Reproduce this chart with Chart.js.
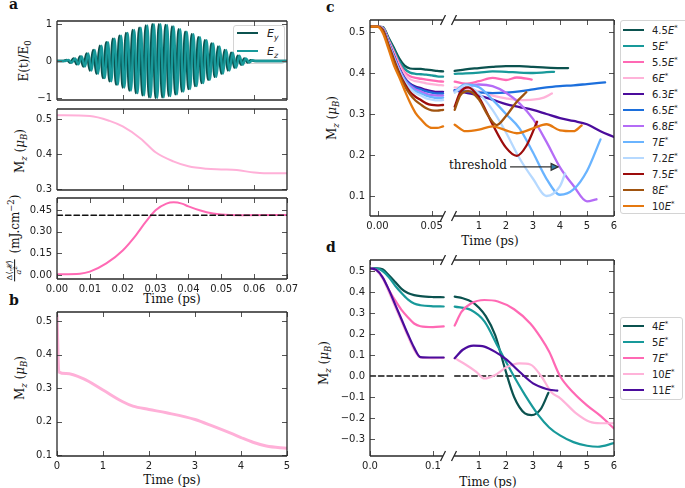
<!DOCTYPE html>
<html>
<head>
<meta charset="utf-8">
<script src="https://cdn.jsdelivr.net/npm/chart.js@4"></script>
<style>
body { margin: 0; background: #fff; }
#fig { position: relative; width: 685px; height: 488px; overflow: hidden; color: #111; }
canvas { position: absolute; }
.lbl { position: absolute; font-family: 'DejaVu Serif', serif; font-size: 12px; white-space: nowrap; line-height: 1; }
.rot { transform: translate(-50%, -50%) rotate(-90deg); }
.mid { transform: translate(-50%, -50%); }
.pl { position: absolute; font-family: 'DejaVu Serif', serif; font-weight: bold; font-size: 14px; line-height: 14px; }
.legend { position: absolute; border: 1px solid #d4d4d4; border-radius: 3px; background: #fff; font-family: 'DejaVu Sans', sans-serif; font-size: 10px; color: #222; }
.legend .row { position: absolute; left: 0; height: 16px; display: flex; align-items: center; white-space: nowrap; }
.legend .sw { display: inline-block; width: 21px; height: 0; border-top: 2.5px solid; }
sub, sup { font-size: 70%; line-height: 0; }
.frac { display: inline-flex; flex-direction: column; align-items: center; vertical-align: middle; font-size: 8px; line-height: 1.05; margin-right: 2px; }
.frac .num { border-bottom: 0.8px solid #111; padding: 0 1px; }
</style>
</head>
<body>
<div id="fig">
  <div class="pl" style="left:9px;top:-3px">a</div>
  <div class="pl" style="left:9px;top:293px">b</div>
  <div class="pl" style="left:326px;top:0px">c</div>
  <div class="pl" style="left:326px;top:240px">d</div>

  <div class="lbl rot" style="left:24px;top:61px">E(t)/E<sub>0</sub></div>
  <div class="lbl rot" style="left:20px;top:151px">M<sub><i>z</i></sub> (<i>μ</i><sub><i>B</i></sub>)</div>
  <div class="lbl rot" style="left:15px;top:238px"><span class="frac"><span class="num">Δ⟨<i>ℋ</i>⟩</span><span><i>a</i><sup>2</sup></span></span> (mJ.cm<sup>−2</sup>)</div>
  <div class="lbl mid" style="left:172px;top:299px">Time (ps)</div>
  <div class="lbl rot" style="left:20px;top:378px">M<sub><i>z</i></sub> (<i>μ</i><sub><i>B</i></sub>)</div>
  <div class="lbl mid" style="left:172px;top:480px">Time (ps)</div>
  <div class="lbl rot" style="left:332px;top:118px">M<sub><i>z</i></sub> (<i>μ</i><sub><i>B</i></sub>)</div>
  <div class="lbl mid" style="left:490px;top:241px">Time (ps)</div>
  <div class="lbl rot" style="left:324px;top:363px">M<sub><i>z</i></sub> (<i>μ</i><sub><i>B</i></sub>)</div>
  <div class="lbl mid" style="left:488px;top:482px">Time (ps)</div>
  <div class="lbl" style="right:178px;top:159px;font-size:12px">threshold</div>

  <div id="legA" class="legend" style="left:233px;top:25px;width:50px;height:37px;font-size:11px"></div>
  <div id="legC" class="legend" style="left:620px;top:20px;width:70px;height:192px"></div>
  <div id="legD" class="legend" style="left:620px;top:317px;width:61px;height:81px"></div>
</div>
<script>
// ---- panel a: pulse (extrema of the field, alternating sign) ----
var aFieldStart = 0.003;        // ps, first extremum
var aFieldHalfPeriod = 0.001;   // ps
var aFieldPeaks = [0.03, 0.05, 0.07, 0.09, 0.12, 0.15, 0.2, 0.26, 0.3, 0.35, 0.41, 0.46, 0.51, 0.55, 0.6, 0.64,
    0.68, 0.72, 0.76, 0.8, 0.84, 0.87, 0.9, 0.93, 0.96, 0.98, 0.995, 1.0, 0.995, 0.98, 0.97, 0.95, 0.93, 0.9,
    0.86, 0.83, 0.79, 0.76, 0.72, 0.68, 0.64, 0.6, 0.56, 0.51, 0.47, 0.43, 0.39, 0.35, 0.3, 0.26, 0.22, 0.18,
    0.14, 0.1, 0.07, 0.04, 0.02];
var aFieldLabels = ['y', 'z'];

// panel a: magnetisation and absorbed energy
var aMzTime = [0, 0.01, 0.016, 0.02, 0.0255, 0.03, 0.0354, 0.04, 0.0455, 0.05, 0.0547, 0.06, 0.063, 0.07];
var aMz = [0.511, 0.509, 0.495, 0.479, 0.444, 0.405, 0.379, 0.365, 0.358, 0.356, 0.354, 0.347, 0.345, 0.345];
var aEnergyTime = [0, 0.007, 0.01, 0.015, 0.02, 0.024, 0.027, 0.03, 0.0333, 0.0355, 0.038, 0.04, 0.0434, 0.0475, 0.05, 0.0557, 0.07];
var aEnergy = [0.005, 0.009, 0.023, 0.08, 0.17, 0.275, 0.367, 0.448, 0.494, 0.503, 0.494, 0.475, 0.448, 0.425, 0.418, 0.414, 0.415];
var aThreshold = 0.414;
var aTimeTicks = [0, 0.01, 0.02, 0.03, 0.04, 0.05, 0.06, 0.07];
var aTimeMarks = [0.02, 0.04, 0.06];

// ---- panel b ----
var bTime = [0, 0.04, 0.2, 0.57, 1.0, 1.43, 1.65, 2.0, 2.38, 3.0, 3.39, 3.83, 4.0, 4.26, 4.55, 5.0];
var bMz = [0.517, 0.348, 0.343, 0.328, 0.294, 0.259, 0.246, 0.236, 0.226, 0.206, 0.186, 0.162, 0.152, 0.138, 0.127, 0.120];

// ---- panel c ----
var cFields = ['4.5', '5', '5.5', '6', '6.3', '6.5', '6.8', '7', '7.2', '7.5', '8', '10'];
var cTimeLeft = [-0.007, 0, 0.005, 0.01, 0.015, 0.02, 0.025, 0.03, 0.035, 0.04, 0.045, 0.05, 0.055, 0.0605];
var cMzLeft = [
    [0.513, 0.513, 0.512, 0.487, 0.462, 0.436, 0.418, 0.411, 0.410, 0.410, 0.408, 0.407, 0.405, 0.404],
    [0.513, 0.513, 0.511, 0.484, 0.457, 0.429, 0.410, 0.401, 0.398, 0.397, 0.396, 0.394, 0.392, 0.391],
    [0.513, 0.513, 0.510, 0.481, 0.452, 0.423, 0.402, 0.392, 0.388, 0.386, 0.384, 0.382, 0.380, 0.379],
    [0.513, 0.513, 0.510, 0.479, 0.449, 0.419, 0.397, 0.385, 0.380, 0.378, 0.375, 0.373, 0.371, 0.370],
    [0.513, 0.513, 0.508, 0.476, 0.444, 0.412, 0.388, 0.374, 0.367, 0.363, 0.359, 0.356, 0.354, 0.354],
    [0.513, 0.513, 0.508, 0.475, 0.442, 0.410, 0.386, 0.372, 0.364, 0.360, 0.355, 0.352, 0.350, 0.350],
    [0.513, 0.513, 0.507, 0.474, 0.441, 0.409, 0.384, 0.369, 0.360, 0.355, 0.349, 0.346, 0.345, 0.345],
    [0.513, 0.513, 0.507, 0.473, 0.439, 0.407, 0.382, 0.365, 0.356, 0.350, 0.345, 0.341, 0.339, 0.340],
    [0.513, 0.513, 0.506, 0.472, 0.437, 0.405, 0.379, 0.362, 0.351, 0.345, 0.338, 0.335, 0.333, 0.334],
    [0.513, 0.513, 0.505, 0.470, 0.434, 0.401, 0.374, 0.354, 0.342, 0.334, 0.326, 0.322, 0.321, 0.322],
    [0.513, 0.513, 0.503, 0.467, 0.430, 0.397, 0.369, 0.348, 0.333, 0.323, 0.314, 0.309, 0.308, 0.310],
    [0.513, 0.513, 0.497, 0.460, 0.420, 0.390, 0.358, 0.328, 0.303, 0.287, 0.273, 0.266, 0.266, 0.270]
];
var cTimeRight = [
    [0.1, 0.5, 1, 1.5, 2, 2.5, 3, 3.5, 4, 4.3],
    [0.1, 0.5, 1, 1.5, 2, 2.5, 3, 3.5, 3.78],
    [0.1, 0.5, 1.0, 1.5, 2.0, 2.4, 2.95],
    [0.1, 0.5, 1, 1.5, 2, 2.5, 3, 3.4, 3.7],
    [0.1, 0.5, 1, 1.5, 2, 2.5, 3, 3.5, 4, 4.5, 5, 5.5, 6],
    [0.1, 0.5, 1, 1.5, 2, 2.5, 3, 3.5, 4, 4.5, 5, 5.67],
    [0.1, 0.5, 1, 1.5, 2, 2.5, 3, 3.5, 4, 4.5, 5, 5.35],
    [0.1, 0.5, 1, 1.5, 2, 2.5, 3, 3.5, 4, 4.5, 5, 5.5],
    [0.1, 0.5, 1, 1.5, 2, 2.5, 3, 3.5, 4, 4.19],
    [0.1, 0.3, 0.6, 1.0, 1.5, 2.0, 2.4, 2.75, 3.15],
    [0.1, 0.3, 0.6, 1.0, 1.3, 1.65, 2.0, 2.4, 2.75],
    [0.1, 0.5, 1.0, 1.5, 2.0, 2.4, 3.0, 3.5, 4.0, 4.5, 4.8]
];
var cMzRight = [
    [0.405, 0.409, 0.412, 0.415, 0.417, 0.417, 0.415, 0.413, 0.412, 0.412],
    [0.398, 0.399, 0.401, 0.404, 0.403, 0.401, 0.400, 0.402, 0.403],
    [0.379, 0.374, 0.380, 0.388, 0.383, 0.389, 0.384],
    [0.365, 0.362, 0.355, 0.345, 0.338, 0.334, 0.335, 0.340, 0.350],
    [0.358, 0.352, 0.345, 0.335, 0.324, 0.317, 0.310, 0.300, 0.290, 0.283, 0.275, 0.258, 0.244],
    [0.358, 0.355, 0.353, 0.351, 0.352, 0.355, 0.360, 0.365, 0.368, 0.370, 0.373, 0.377],
    [0.355, 0.365, 0.372, 0.368, 0.352, 0.326, 0.288, 0.232, 0.170, 0.125, 0.087, 0.092],
    [0.355, 0.372, 0.365, 0.335, 0.300, 0.265, 0.206, 0.142, 0.103, 0.116, 0.161, 0.238],
    [0.352, 0.370, 0.350, 0.310, 0.255, 0.192, 0.142, 0.100, 0.124, 0.155],
    [0.318, 0.352, 0.365, 0.340, 0.275, 0.218, 0.198, 0.222, 0.281],
    [0.310, 0.345, 0.356, 0.335, 0.300, 0.273, 0.295, 0.330, 0.353],
    [0.274, 0.258, 0.262, 0.270, 0.260, 0.253, 0.265, 0.275, 0.260, 0.258, 0.272]
];
var cThreshold = 0.171;
var cArrowFrom = 2.15, cArrowTo = 3.93;
var cTickLeft = [0, 0.05], cTickRight = [1, 2, 3, 4, 5, 6];

// ---- panel d ----
var dFields = ['4', '5', '7', '10', '11'];
var dTimeLeft = [0, 0.01, 0.02, 0.03, 0.04, 0.05, 0.06, 0.07, 0.08, 0.1, 0.117];
var dMzLeft = [
    [0.513, 0.513, 0.508, 0.480, 0.448, 0.415, 0.395, 0.385, 0.380, 0.376, 0.375],
    [0.513, 0.513, 0.500, 0.470, 0.430, 0.395, 0.365, 0.345, 0.337, 0.332, 0.331],
    [0.513, 0.505, 0.470, 0.410, 0.360, 0.315, 0.280, 0.250, 0.237, 0.233, 0.236],
    [0.513, 0.503, 0.465, 0.400, 0.330, 0.260, 0.190, 0.125, 0.088, 0.085, 0.086],
    [0.513, 0.505, 0.470, 0.410, 0.340, 0.270, 0.200, 0.135, 0.090, 0.088, 0.088]
];
var dTimeRight = [
    [0.1, 0.4, 0.75, 1.0, 1.25, 1.6, 1.95, 2.3, 2.7, 2.95, 3.3, 3.57],
    [0.1, 0.7, 1.2, 1.7, 2.2, 2.7, 3.2, 3.6, 4.0, 4.5, 5.0, 5.4, 6.0],
    [0.1, 0.35, 0.7, 1.2, 1.7, 2.3, 2.9, 3.3, 3.6, 4.0, 4.5, 5.0, 5.5, 6.0],
    [0.1, 0.5, 0.9, 1.2, 1.6, 2.0, 2.5, 2.9, 3.3, 3.7, 4.0, 4.6, 5.1, 5.5, 6.0],
    [0.1, 0.4, 0.8, 1.2, 1.6, 2.0, 2.5, 3.0, 3.5, 3.9]
];
var dMzRight = [
    [0.378, 0.370, 0.352, 0.325, 0.285, 0.195, 0.040, -0.100, -0.178, -0.186, -0.155, -0.080],
    [0.330, 0.314, 0.260, 0.140, 0.020, -0.090, -0.186, -0.245, -0.283, -0.315, -0.332, -0.337, -0.320],
    [0.240, 0.305, 0.345, 0.362, 0.355, 0.318, 0.250, 0.180, 0.115, 0.000, -0.080, -0.140, -0.190, -0.250],
    [0.085, 0.055, 0.020, -0.012, 0.005, 0.040, 0.060, 0.055, 0.000, -0.080, -0.105, -0.178, -0.218, -0.225, -0.225],
    [0.085, 0.125, 0.145, 0.140, 0.115, 0.080, 0.020, -0.035, -0.062, -0.070]
];
var dTickLeft = [0, 0.1], dTickRight = [1, 2, 3, 4, 5, 6];
var dYTicks = [-0.3, -0.2, -0.1, 0, 0.1, 0.2, 0.3, 0.4, 0.5];

// ---- styles ----
var fieldColors = ['#0b524f', '#18999a'];
var cColors = ['#0b524f', '#18999a', '#ff69b4', '#ffb3d9', '#4b0c9c', '#1c6fdc', '#b46cf6',
    '#6ab4ff', '#b6d9ff', '#9c0c0c', '#a0530f', '#e5780f'];
var dColors = ['#0b524f', '#18999a', '#ff69b4', '#ffb3d9', '#4b0c9c'];
var tickFont = { family: 'DejaVu Sans', size: 10 };

// broken time axis: both parts share one linear scale in "frame pixels"
var cLeftX = function (t) { return 7.5 + 1084 * t; };
var dLeftX = function (t) { return 630 * t; };
var rightX = function (t) { return 82 + 27 * t; };
var breakGap = [73, 84];

/**
 * Create a canvas in the figure
 */
function addCanvas(left, top, width, height) {
    var c = document.createElement('canvas');
    c.width = width;
    c.height = height;
    c.style.left = left + 'px';
    c.style.top = top + 'px';
    c.style.width = width + 'px';
    c.style.height = height + 'px';
    document.getElementById('fig').appendChild(c);
    return c.getContext('2d');
}

/**
 * Spines, inward ticks and optional axis break
 */
function framePlugin(xMarks, yMarks, gap) {
    return {
        id: 'frame',
        afterDatasetsDraw: function (chart) {
            var ctx = chart.ctx, a = chart.chartArea, x = chart.scales.x, y = chart.scales.y;
            ctx.save();
            ctx.strokeStyle = '#555';
            ctx.lineWidth = 1;
            ctx.beginPath();
            xMarks.forEach(function (v) {
                var px = Math.round(x.getPixelForValue(v)) + 0.5;
                ctx.moveTo(px, a.bottom); ctx.lineTo(px, a.bottom - 5);
                ctx.moveTo(px, a.top); ctx.lineTo(px, a.top + 5);
            });
            yMarks.forEach(function (v) {
                var py = Math.round(y.getPixelForValue(v)) + 0.5;
                ctx.moveTo(a.left, py); ctx.lineTo(a.left + 5, py);
                ctx.moveTo(a.right, py); ctx.lineTo(a.right - 5, py);
            });
            ctx.stroke();
            ctx.strokeStyle = '#2a2a2a';
            ctx.lineWidth = 1.3;
            ctx.beginPath();
            ctx.moveTo(a.left, a.top); ctx.lineTo(a.left, a.bottom);
            ctx.moveTo(a.right, a.top); ctx.lineTo(a.right, a.bottom);
            if (gap) {
                var g0 = x.getPixelForValue(gap[0]), g1 = x.getPixelForValue(gap[1]);
                [a.top, a.bottom].forEach(function (py) {
                    ctx.moveTo(a.left, py); ctx.lineTo(g0, py);
                    ctx.moveTo(g1, py); ctx.lineTo(a.right, py);
                    ctx.moveTo(g0 - 2.5, py + 5); ctx.lineTo(g0 + 2.5, py - 5);
                    ctx.moveTo(g1 - 2.5, py + 5); ctx.lineTo(g1 + 2.5, py - 5);
                });
            } else {
                ctx.moveTo(a.left, a.top); ctx.lineTo(a.right, a.top);
                ctx.moveTo(a.left, a.bottom); ctx.lineTo(a.right, a.bottom);
            }
            ctx.stroke();
            ctx.restore();
        }
    };
}

/**
 * Options shared by all panels
 */
function panelOptions(p) {
    return {
        responsive: false,
        animation: false,
        devicePixelRatio: 1,
        layout: { autoPadding: false, padding: p.padding },
        plugins: { legend: { display: false }, tooltip: { enabled: false } },
        elements: {
            point: { radius: 0 },
            line: { cubicInterpolationMode: 'monotone', borderCapStyle: 'round', borderJoinStyle: 'round' }
        },
        scales: {
            x: {
                type: 'linear', min: p.xMin, max: p.xMax,
                grid: { display: false, drawTicks: false }, border: { display: false },
                ticks: {
                    display: !!p.xLabels, font: tickFont, color: '#222', padding: 4, maxRotation: 0, autoSkip: false,
                    callback: function (v, i) { return p.xLabels ? p.xLabels[i] : ''; }
                },
                afterBuildTicks: function (s) { s.ticks = p.xTicks.map(function (v) { return { value: v }; }); },
                afterFit: function (s) { s.height = p.xHeight; s.paddingLeft = 0; s.paddingRight = 0; }
            },
            y: {
                type: 'linear', min: p.yMin, max: p.yMax,
                grid: { display: false, drawTicks: false }, border: { display: false },
                ticks: {
                    font: tickFont, color: '#222', padding: 5, autoSkip: false,
                    callback: function (v, i) { return p.yLabels[i]; }
                },
                afterBuildTicks: function (s) { s.ticks = p.yTicks.map(function (v) { return { value: v }; }); },
                afterFit: function (s) { s.width = 40; s.paddingTop = 0; s.paddingBottom = 0; }
            }
        }
    };
}

function points(times, values, map) {
    return times.map(function (t, i) { return { x: map ? map(t) : t, y: values[i] }; });
}

function line(data, color, width, order, dash) {
    return {
        data: data, borderColor: color, borderWidth: width, fill: false, pointRadius: 0,
        order: order, borderDash: dash || [], spanGaps: false
    };
}

function fieldPoints(shift) {
    var pts = [{ x: 0, y: 0 }, { x: aFieldStart + shift - aFieldHalfPeriod, y: 0 }];
    aFieldPeaks.forEach(function (amp, k) {
        pts.push({ x: aFieldStart + shift + k * aFieldHalfPeriod, y: k % 2 ? -amp : amp });
    });
    pts.push({ x: aFieldStart + shift + aFieldPeaks.length * aFieldHalfPeriod, y: 0 }, { x: 0.07, y: 0 });
    return pts;
}

var fmt2 = function (v) { return v.toFixed(2); };
var fmt1 = function (v) { return v.toFixed(1).replace('-', '\u2212'); };

// ---- panel a, top: field ----
new Chart(addCanvas(17, 16, 283, 89), {
    type: 'line',
    data: { datasets: [
        line(fieldPoints(0), fieldColors[0], 2.4, 0),
        line(fieldPoints(aFieldHalfPeriod / 2), fieldColors[1], 2.4, -1)
    ] },
    options: panelOptions({
        padding: { top: 5, right: 13, bottom: 5, left: 0 },
        xMin: 0, xMax: 0.07, xTicks: aTimeMarks, xHeight: 0,
        yMin: -1.055, yMax: 1.08, yTicks: [-1, 0, 1], yLabels: ['\u22121', '0', '1']
    }),
    plugins: [framePlugin(aTimeMarks, [-1, 0, 1])]
});

// ---- panel a, middle: Mz ----
new Chart(addCanvas(17, 104, 283, 91), {
    type: 'line',
    data: { datasets: [line(points(aMzTime, aMz), '#ffb0d8', 2, 0)] },
    options: panelOptions({
        padding: { top: 5, right: 13, bottom: 5, left: 0 },
        xMin: 0, xMax: 0.07, xTicks: aTimeMarks, xHeight: 0,
        yMin: 0.297, yMax: 0.529, yTicks: [0.3, 0.4, 0.5], yLabels: ['0.3', '0.4', '0.5']
    }),
    plugins: [framePlugin(aTimeMarks, [0.3, 0.4, 0.5])]
});

// ---- panel a, bottom: energy ----
var aEnergyTicks = [0, 0.15, 0.30, 0.45];
new Chart(addCanvas(17, 193, 283, 102), {
    type: 'line',
    data: { datasets: [
        line(points(aEnergyTime, aEnergy), '#ff69b4', 2, 0),
        line([{ x: 0, y: aThreshold }, { x: 0.07, y: aThreshold }], '#111', 1.4, -1, [5.5, 3])
    ] },
    options: panelOptions({
        padding: { top: 5, right: 13, bottom: 0, left: 0 },
        xMin: 0, xMax: 0.07, xTicks: aTimeTicks, xLabels: aTimeTicks.map(fmt2), xHeight: 16,
        yMin: -0.0277, yMax: 0.533, yTicks: aEnergyTicks, yLabels: aEnergyTicks.map(fmt2)
    }),
    plugins: [framePlugin(aTimeTicks, aEnergyTicks)]
});

// ---- panel b ----
var bXTicks = [0, 1, 2, 3, 4, 5], bYTicks = [0.1, 0.2, 0.3, 0.4, 0.5];
new Chart(addCanvas(17, 307, 283, 165), {
    type: 'line',
    data: { datasets: [line(points(bTime, bMz), '#ffb0d8', 3, 0)] },
    options: panelOptions({
        padding: { top: 5, right: 13, bottom: 0, left: 0 },
        xMin: 0, xMax: 5, xTicks: bXTicks, xLabels: bXTicks.map(String), xHeight: 16,
        yMin: 0.097, yMax: 0.527, yTicks: bYTicks, yLabels: bYTicks.map(fmt1)
    }),
    plugins: [framePlugin(bXTicks, bYTicks)]
});

// ---- panel c ----
var cXTicks = cTickLeft.map(cLeftX).concat(cTickRight.map(rightX));
var cXLabels = cTickLeft.map(fmt2).concat(cTickRight.map(String));
var cYTicks = [0.1, 0.2, 0.3, 0.4, 0.5];
var cDatasets = cFields.map(function (f, i) {
    var data = points(cTimeLeft, cMzLeft[i], cLeftX)
        .concat([{ x: 78, y: null }], points(cTimeRight[i], cMzRight[i], rightX));
    return line(data, cColors[i], 2.3, -i);
});
new Chart(addCanvas(330, 15, 288, 217), {
    type: 'line',
    data: { datasets: cDatasets },
    options: panelOptions({
        padding: { top: 5, right: 4, bottom: 0, left: 0 },
        xMin: 0, xMax: 244, xTicks: cXTicks, xLabels: cXLabels, xHeight: 16,
        yMin: 0.0512, yMax: 0.5293, yTicks: cYTicks, yLabels: cYTicks.map(fmt1)
    }),
    plugins: [framePlugin(cXTicks, cYTicks, breakGap), {
        id: 'arrow',
        afterDatasetsDraw: function (chart) {
            var ctx = chart.ctx, x = chart.scales.x, y = chart.scales.y;
            var x0 = x.getPixelForValue(rightX(cArrowFrom)), x1 = x.getPixelForValue(rightX(cArrowTo));
            var py = y.getPixelForValue(cThreshold);
            ctx.save();
            ctx.strokeStyle = '#333';
            ctx.lineWidth = 1.2;
            ctx.beginPath(); ctx.moveTo(x0, py); ctx.lineTo(x1 - 6, py); ctx.stroke();
            ctx.beginPath();
            ctx.moveTo(x1, py); ctx.lineTo(x1 - 7, py - 3.5); ctx.lineTo(x1 - 7, py + 3.5); ctx.closePath();
            ctx.fillStyle = '#2d7ca6';
            ctx.fill(); ctx.stroke();
            ctx.restore();
        }
    }]
});

// ---- panel d ----
var dXTicks = dTickLeft.map(dLeftX).concat(dTickRight.map(rightX));
var dXLabels = dTickLeft.map(fmt1).concat(dTickRight.map(String));
var dDatasets = dFields.map(function (f, i) {
    var data = points(dTimeLeft, dMzLeft[i], dLeftX)
        .concat([{ x: 78, y: null }], points(dTimeRight[i], dMzRight[i], rightX));
    return line(data, dColors[i], 2.2, -i);
});
dDatasets.push(line([
    { x: dLeftX(0), y: 0 }, { x: dLeftX(0.117), y: 0 }, { x: 78, y: null },
    { x: rightX(0.1), y: 0 }, { x: rightX(6), y: 0 }
], '#111', 1.4, 10, [5.5, 3]));
new Chart(addCanvas(330, 255, 288, 217), {
    type: 'line',
    data: { datasets: dDatasets },
    options: panelOptions({
        padding: { top: 5, right: 4, bottom: 0, left: 0 },
        xMin: 0, xMax: 244, xTicks: dXTicks, xLabels: dXLabels, xHeight: 16,
        yMin: -0.381, yMax: 0.5524, yTicks: dYTicks, yLabels: dYTicks.map(fmt1)
    }),
    plugins: [framePlugin(dXTicks, dYTicks, breakGap)]
});

// ---- legends ----
function buildLegend(id, labels, colors, first, step, swLeft, textLeft) {
    var box = document.getElementById(id);
    labels.forEach(function (html, i) {
        var row = document.createElement('div');
        row.className = 'row';
        row.style.top = (first - 8 + i * step) + 'px';
        row.innerHTML = '<span class="sw" style="border-color:' + colors[i] + ';margin-left:' + swLeft +
            'px;margin-right:' + (textLeft - swLeft - 21) + 'px"></span><span>' + html + '</span>';
        box.appendChild(row);
    });
}
buildLegend('legA', aFieldLabels.map(function (c) { return '<i>E</i><sub><i>' + c + '</i></sub>'; }),
    fieldColors, 7, 18, 3, 33);
buildLegend('legC', cFields.map(function (f) { return f + '<i>E</i><sup>*</sup>'; }), cColors, 9, 16, 2, 31);
buildLegend('legD', dFields.map(function (f) { return f + '<i>E</i><sup>*</sup>'; }), dColors, 8, 16, 2, 31);
</script>
</body>
</html>
